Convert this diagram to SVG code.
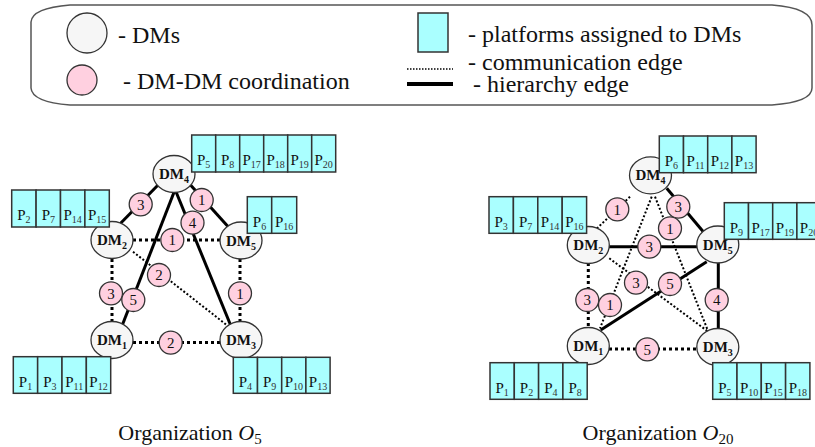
<svg xmlns="http://www.w3.org/2000/svg" width="815" height="447" viewBox="0 0 815 447" font-family="Liberation Serif, DejaVu Serif, serif">
<style>
text{font-family:'Liberation Serif','DejaVu Serif',serif;fill:#111}
.dm{fill:#f6f6f6;stroke:#333;stroke-width:1.3}
.dmt{font-size:15px;font-weight:bold;text-anchor:middle}
.dmt tspan{font-size:10px}
.pk{fill:#ffd0e0;stroke:#333;stroke-width:1.3}
.pkt{font-size:15px;text-anchor:middle}
.pf{fill:#aaffff;stroke:#333;stroke-width:1.5}
.pft{font-size:15px;text-anchor:middle}
.pft tspan{font-size:10px;fill:#333}
.hier{stroke:#000;stroke-width:3;fill:none}
.comm{stroke:#000;stroke-width:3;stroke-dasharray:3 3;fill:none}
.commd{stroke:#000;stroke-width:2;stroke-dasharray:2 2;fill:none}
.leg{font-size:24px}
.cap{font-size:22px;text-anchor:middle}
</style>

<g id="legend">
<path d="M70,5 L772,5 Q812,8 812,25 L812,88 Q812,102 772,105 L70,105 Q32,102 31,88 L31,22 Q32,8 70,5 Z" fill="#fff" stroke="#555" stroke-width="1.5"/>
<circle cx="87" cy="33" r="20" class="dm"/>
<text x="118" y="43" class="leg">- DMs</text>
<circle cx="82" cy="80" r="15" class="pk"/>
<text x="123" y="89" class="leg">- DM-DM coordination</text>
<rect x="418" y="13" width="30" height="39" class="pf"/>
<text x="468" y="42" class="leg">- platforms assigned to DMs</text>
<line x1="407" y1="69" x2="453" y2="69" stroke="#000" stroke-width="1.5" stroke-dasharray="1.5 1.5"/>
<text x="468" y="70" class="leg">- communication edge</text>
<line x1="407" y1="84" x2="453" y2="84" stroke="#000" stroke-width="4"/>
<text x="473" y="92" class="leg">- hierarchy edge</text>
</g>

<g id="connectors">
<line x1="115" y1="229" x2="160" y2="183" class="hier"/>
<line x1="186" y1="180" x2="232" y2="231" class="hier"/>
<line x1="178" y1="182" x2="120" y2="331" class="hier"/>
<line x1="172" y1="182" x2="233" y2="331" class="hier"/>
<line x1="133" y1="240" x2="220" y2="240" class="comm"/>
<line x1="112" y1="259" x2="112" y2="321" class="comm"/>
<line x1="133" y1="251.7" x2="226.7" y2="325" class="commd"/>
<line x1="240" y1="259" x2="240" y2="321" class="comm"/>
<line x1="133" y1="342.5" x2="220" y2="342.5" class="comm"/>
<line x1="630" y1="196.7" x2="596" y2="229.3" class="commd"/>
<line x1="666.7" y1="188.3" x2="703.3" y2="231.7" class="hier"/>
<line x1="655" y1="196.7" x2="708.3" y2="331.7" class="commd"/>
<line x1="651.7" y1="196.7" x2="600" y2="328.3" class="commd"/>
<line x1="609" y1="246.7" x2="697" y2="246.7" class="hier" stroke-width="5"/>
<line x1="609.3" y1="258.3" x2="708.3" y2="331.7" class="commd"/>
<line x1="588.3" y1="263" x2="588.3" y2="327" class="comm"/>
<line x1="600.7" y1="330" x2="706.7" y2="261.7" class="hier"/>
<line x1="718.3" y1="262" x2="718.3" y2="329" class="hier" stroke-width="4.5"/>
<line x1="609" y1="349" x2="697" y2="349" class="comm"/>
</g>

<g id="coordination-O5">
<g id="c5-42"><circle cx="140.7" cy="204.3" r="11.5" class="pk"/><text x="140.7" y="209.5" class="pkt">3</text></g>
<g id="c5-45"><circle cx="201.7" cy="200" r="11.5" class="pk"/><text x="201.7" y="205.2" class="pkt">1</text></g>
<g id="c5-43"><circle cx="192.5" cy="222.7" r="11.5" class="pk"/><text x="192.5" y="227.9" class="pkt">4</text></g>
<g id="c5-25"><circle cx="172.3" cy="240" r="11.5" class="pk"/><text x="172.3" y="245.2" class="pkt">1</text></g>
<g id="c5-23"><circle cx="159" cy="275" r="11.5" class="pk"/><text x="159" y="280.2" class="pkt">2</text></g>
<g id="c5-21"><circle cx="111" cy="293.3" r="11.5" class="pk"/><text x="111" y="298.5" class="pkt">3</text></g>
<g id="c5-41"><circle cx="133.3" cy="300" r="11.5" class="pk"/><text x="133.3" y="305.2" class="pkt">5</text></g>
<g id="c5-53"><circle cx="240" cy="293.3" r="11.5" class="pk"/><text x="240" y="298.5" class="pkt">1</text></g>
<g id="c5-13"><circle cx="170.7" cy="342.7" r="11.5" class="pk"/><text x="170.7" y="347.9" class="pkt">2</text></g>
</g>

<g id="coordination-O20">
<g id="c20-42"><circle cx="617.3" cy="209.3" r="11.5" class="pk"/><text x="617.3" y="214.5" class="pkt">1</text></g>
<g id="c20-45"><circle cx="678.3" cy="206.7" r="11.5" class="pk"/><text x="678.3" y="211.9" class="pkt">3</text></g>
<g id="c20-43"><circle cx="670" cy="228.3" r="11.5" class="pk"/><text x="670" y="233.5" class="pkt">1</text></g>
<g id="c20-25"><circle cx="649.3" cy="246.7" r="11.5" class="pk"/><text x="649.3" y="251.9" class="pkt">3</text></g>
<g id="c20-23"><circle cx="636" cy="282.7" r="11.5" class="pk"/><text x="636" y="287.9" class="pkt">3</text></g>
<g id="c20-15"><circle cx="670" cy="284" r="11.5" class="pk"/><text x="670" y="289.2" class="pkt">5</text></g>
<g id="c20-21"><circle cx="587.3" cy="300" r="11.5" class="pk"/><text x="587.3" y="305.2" class="pkt">3</text></g>
<g id="c20-41"><circle cx="610" cy="305" r="11.5" class="pk"/><text x="610" y="310.2" class="pkt">1</text></g>
<g id="c20-53"><circle cx="716.7" cy="300" r="11.5" class="pk"/><text x="716.7" y="305.2" class="pkt">4</text></g>
<g id="c20-13"><circle cx="647.3" cy="349.3" r="11.5" class="pk"/><text x="647.3" y="354.5" class="pkt">5</text></g>
</g>

<g id="O5-DM4"><ellipse cx="174" cy="174" rx="21" ry="18.5" class="dm"/><text x="174" y="179" class="dmt">DM<tspan dy="4">4</tspan></text></g>
<g id="O5-DM2"><ellipse cx="112" cy="240" rx="21" ry="18.5" class="dm"/><text x="112" y="245" class="dmt">DM<tspan dy="4">2</tspan></text></g>
<g id="O5-DM5"><ellipse cx="241" cy="240.5" rx="21" ry="18.5" class="dm"/><text x="241" y="245.5" class="dmt">DM<tspan dy="4">5</tspan></text></g>
<g id="O5-DM1"><ellipse cx="112" cy="340" rx="21" ry="18.5" class="dm"/><text x="112" y="345" class="dmt">DM<tspan dy="4">1</tspan></text></g>
<g id="O5-DM3"><ellipse cx="241" cy="340" rx="21" ry="18.5" class="dm"/><text x="241" y="345" class="dmt">DM<tspan dy="4">3</tspan></text></g>

<g id="O20-DM4"><ellipse cx="650.5" cy="175.3" rx="21" ry="18.5" class="dm"/><text x="650.5" y="180.3" class="dmt">DM<tspan dy="4">4</tspan></text></g>
<g id="O20-DM2"><ellipse cx="588.3" cy="245" rx="21" ry="18.5" class="dm"/><text x="588.3" y="250" class="dmt">DM<tspan dy="4">2</tspan></text></g>
<g id="O20-DM5"><ellipse cx="717.8" cy="244.5" rx="21" ry="18.5" class="dm"/><text x="717.8" y="249.5" class="dmt">DM<tspan dy="4">5</tspan></text></g>
<g id="O20-DM1"><ellipse cx="588.3" cy="346" rx="21" ry="18.5" class="dm"/><text x="588.3" y="351" class="dmt">DM<tspan dy="4">1</tspan></text></g>
<g id="O20-DM3"><ellipse cx="717.8" cy="347" rx="21" ry="18.5" class="dm"/><text x="717.8" y="352" class="dmt">DM<tspan dy="4">3</tspan></text></g>

<g id="O5-P-DM2">
<rect x="11.7" y="190" width="24.4" height="37" class="pf"/><text x="23.9" y="220" class="pft">P<tspan dy="3">2</tspan></text>
<rect x="36.1" y="190" width="24.4" height="37" class="pf"/><text x="48.3" y="220" class="pft">P<tspan dy="3">7</tspan></text>
<rect x="60.5" y="190" width="24.4" height="37" class="pf"/><text x="72.7" y="220" class="pft">P<tspan dy="3">14</tspan></text>
<rect x="84.9" y="190" width="24.4" height="37" class="pf"/><text x="97.1" y="220" class="pft">P<tspan dy="3">15</tspan></text>
</g>
<g id="O5-P-DM4">
<rect x="191.7" y="135" width="24" height="37" class="pf"/><text x="203.7" y="165" class="pft">P<tspan dy="3">5</tspan></text>
<rect x="215.7" y="135" width="24" height="37" class="pf"/><text x="227.7" y="165" class="pft">P<tspan dy="3">8</tspan></text>
<rect x="239.7" y="135" width="24" height="37" class="pf"/><text x="251.7" y="165" class="pft">P<tspan dy="3">17</tspan></text>
<rect x="263.7" y="135" width="24" height="37" class="pf"/><text x="275.7" y="165" class="pft">P<tspan dy="3">18</tspan></text>
<rect x="287.7" y="135" width="24" height="37" class="pf"/><text x="299.7" y="165" class="pft">P<tspan dy="3">19</tspan></text>
<rect x="311.7" y="135" width="24" height="37" class="pf"/><text x="323.7" y="165" class="pft">P<tspan dy="3">20</tspan></text>
</g>
<g id="O5-P-DM5">
<rect x="247.3" y="196.7" width="24.4" height="36.6" class="pf"/><text x="259.5" y="226.5" class="pft">P<tspan dy="3">6</tspan></text>
<rect x="271.7" y="196.7" width="25" height="36.6" class="pf"/><text x="284.2" y="226.5" class="pft">P<tspan dy="3">16</tspan></text>
</g>
<g id="O5-P-DM1">
<rect x="13.3" y="356.7" width="24.35" height="36.6" class="pf"/><text x="25.5" y="386.5" class="pft">P<tspan dy="3">1</tspan></text>
<rect x="37.65" y="356.7" width="24.35" height="36.6" class="pf"/><text x="49.8" y="386.5" class="pft">P<tspan dy="3">3</tspan></text>
<rect x="62" y="356.7" width="24.35" height="36.6" class="pf"/><text x="74.2" y="386.5" class="pft">P<tspan dy="3">11</tspan></text>
<rect x="86.35" y="356.7" width="24.35" height="36.6" class="pf"/><text x="98.5" y="386.5" class="pft">P<tspan dy="3">12</tspan></text>
</g>
<g id="O5-P-DM3">
<rect x="233.3" y="357.3" width="24.2" height="36" class="pf"/><text x="245.4" y="386.5" class="pft">P<tspan dy="3">4</tspan></text>
<rect x="257.5" y="357.3" width="24.2" height="36" class="pf"/><text x="269.6" y="386.5" class="pft">P<tspan dy="3">9</tspan></text>
<rect x="281.7" y="357.3" width="24.2" height="36" class="pf"/><text x="293.8" y="386.5" class="pft">P<tspan dy="3">10</tspan></text>
<rect x="305.9" y="357.3" width="24.2" height="36" class="pf"/><text x="318" y="386.5" class="pft">P<tspan dy="3">13</tspan></text>
</g>

<g id="O20-P-DM4">
<rect x="659.3" y="136" width="24.2" height="36.7" class="pf"/><text x="671.4" y="166" class="pft">P<tspan dy="3">6</tspan></text>
<rect x="683.5" y="136" width="24.2" height="36.7" class="pf"/><text x="695.6" y="166" class="pft">P<tspan dy="3">11</tspan></text>
<rect x="707.7" y="136" width="24.2" height="36.7" class="pf"/><text x="719.8" y="166" class="pft">P<tspan dy="3">12</tspan></text>
<rect x="731.9" y="136" width="24.2" height="36.7" class="pf"/><text x="744" y="166" class="pft">P<tspan dy="3">13</tspan></text>
</g>
<g id="O20-P-DM2">
<rect x="489" y="196.7" width="24.4" height="36.6" class="pf"/><text x="501.2" y="226.5" class="pft">P<tspan dy="3">3</tspan></text>
<rect x="513.4" y="196.7" width="24.4" height="36.6" class="pf"/><text x="525.6" y="226.5" class="pft">P<tspan dy="3">7</tspan></text>
<rect x="537.8" y="196.7" width="24.4" height="36.6" class="pf"/><text x="550" y="226.5" class="pft">P<tspan dy="3">14</tspan></text>
<rect x="562.2" y="196.7" width="24.4" height="36.6" class="pf"/><text x="574.4" y="226.5" class="pft">P<tspan dy="3">16</tspan></text>
</g>
<g id="O20-P-DM5">
<rect x="724.3" y="202.7" width="24.2" height="36.6" class="pf"/><text x="736.4" y="232.5" class="pft">P<tspan dy="3">9</tspan></text>
<rect x="748.5" y="202.7" width="24.2" height="36.6" class="pf"/><text x="760.6" y="232.5" class="pft">P<tspan dy="3">17</tspan></text>
<rect x="772.7" y="202.7" width="24.2" height="36.6" class="pf"/><text x="784.8" y="232.5" class="pft">P<tspan dy="3">19</tspan></text>
<rect x="796.9" y="202.7" width="24.2" height="36.6" class="pf"/><text x="809" y="232.5" class="pft">P<tspan dy="3">20</tspan></text>
</g>
<g id="O20-P-DM1">
<rect x="490" y="362.7" width="24.3" height="36.6" class="pf"/><text x="502.2" y="392.5" class="pft">P<tspan dy="3">1</tspan></text>
<rect x="514.3" y="362.7" width="24.3" height="36.6" class="pf"/><text x="526.5" y="392.5" class="pft">P<tspan dy="3">2</tspan></text>
<rect x="538.6" y="362.7" width="24.3" height="36.6" class="pf"/><text x="550.8" y="392.5" class="pft">P<tspan dy="3">4</tspan></text>
<rect x="562.9" y="362.7" width="24.3" height="36.6" class="pf"/><text x="575.1" y="392.5" class="pft">P<tspan dy="3">8</tspan></text>
</g>
<g id="O20-P-DM3">
<rect x="712.7" y="362.7" width="24.3" height="36.6" class="pf"/><text x="724.9" y="392.5" class="pft">P<tspan dy="3">5</tspan></text>
<rect x="737" y="362.7" width="24.3" height="36.6" class="pf"/><text x="749.2" y="392.5" class="pft">P<tspan dy="3">10</tspan></text>
<rect x="761.3" y="362.7" width="24.3" height="36.6" class="pf"/><text x="773.5" y="392.5" class="pft">P<tspan dy="3">15</tspan></text>
<rect x="785.6" y="362.7" width="24.3" height="36.6" class="pf"/><text x="797.8" y="392.5" class="pft">P<tspan dy="3">18</tspan></text>
</g>

<g id="captions">
<text x="190" y="440" class="cap">Organization <tspan font-style="italic">O</tspan><tspan font-size="15" dy="4">5</tspan></text>
<text x="658" y="440" class="cap">Organization <tspan font-style="italic">O</tspan><tspan font-size="15" dy="4">20</tspan></text>
</g>
</svg>
